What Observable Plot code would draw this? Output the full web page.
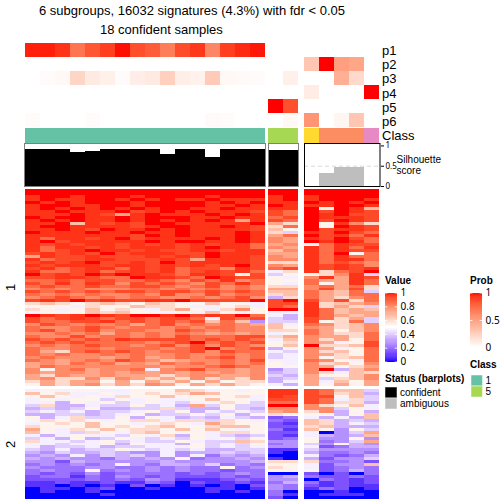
<!DOCTYPE html>
<html><head><meta charset="utf-8">
<style>
html,body{margin:0;padding:0;background:#fff}
#page{position:relative;width:504px;height:504px;overflow:hidden;font-family:"Liberation Sans",sans-serif;color:#000}
#page>svg,#page>div{position:absolute}
#page>div{white-space:nowrap;line-height:1}
</style>
<script src="https://cdn.jsdelivr.net/npm/d3@7"></script>
<script src="https://cdn.jsdelivr.net/npm/@observablehq/plot@0.6"></script>
</head><body><div id="page"></div>
<script>
// ---------- data ----------
const probNames = ["p1","p2","p3","p4","p5","p6"];
const probLeft = [
 [.97,.97,.93,.7,.82,.9,.99,.85,.8,.66,.86,.92,.62,.9,.95,.98],
 [0,0,0,0,0,0,0,0,0,0,0,0,0,0,0,0],
 [0,.02,.04,.22,.11,.08,.02,.09,.11,.25,.09,.07,.28,.04,.03,.02],
 [0,0,0,0,0,0,0,0,0,0,0,0,0,0,0,0],
 [0,0,0,0,0,0,0,0,0,0,0,0,0,0,0,0],
 [.02,0,0,0,.02,0,0,0,0,0,0,0,.03,.02,0,0]];
const probMid = [[0,0],[0,0],[0,.08],[0,0],[1,.85],[0,.04]];
const probRight = [
 [0,0,0,0,0],[.3,1,.5,.47,0],[0,0,.42,.2,0],[.1,0,0,0,1],[0,0,0,0,0],[.55,0,.05,.3,0]];
const classLeft = Array(16).fill("1");
const classMid = ["5","5"];
const classRight = ["a","b","b","b","c"];
const classColors = {"1":"#66C2A5","5":"#A6D854",a:"#FFD92F",b:"#FC8D62",c:"#E78AC3"};
const silLeft = [.9,.9,.9,.83,.87,.9,.9,.9,.9,.8,.9,.9,.72,.9,.9,.9];
const silMid = [.88,.88];
const silRight = [0,.32,.48,.48,0];
const valueTicks = [0,.2,.4,.6,.8,1];
const probTicks = [0,.5,1];
// each row: 16 left samples, 2 middle samples, 5 right samples
// digit 0..e = value d/15, g = 0.965, f = 1
const rowsGroup1 = [
"ffffffffffffffff ff fffff",
"ffffffffffffffff ff fffff",
"gffgfffgffffgfff gf gffff",
"gfggffgfgfggfggg gf gfffg",
"fgfgfffgffffgfgf gg fgfgf",
"gffggffgffffggfg fg ggffg",
"gfgfgfgfgffggfgg gg f8fga",
"ggfgggfegfgfggge ed fefge",
"gggfgebgfgggfgfg ed fgfee",
"fgffggfgfffggfgg de fggge",
"gfgfggfgfgfgfgbg ed fefge",
"ggfagegeffgggggf b9 f8gc9",
"gffggggegffggfge 9d f8fge",
"ggfgefggfgfgggge a8 fegge",
"fgggfggfggfgggfg 96 gefed",
"gggggggefgfgggfg bd fegdg",
"gdggegfeggggfgfg cb gefed",
"gfegggggfgffggfg cb fgfgd",
"gegeggegegegeggd bc 8dgee",
"gdggegegggegfggd cb gdgdg",
"gdegfggegeeggegg ac gdgee",
"egegefegggeefggg bb gdf8d",
"bgeegeeegegefgge cb gdgdd",
"gdeeggeeegebggge cc gdggd",
"egegfeegefegggge 99 gdedc",
"gegggeggegegegfe cb gegec",
"egdeggdgegdeecge de gegeg",
"gddegdegegdegegd 79 g9def",
"fegefgfggedgge8e 68 89cg6",
"eeggeddfggedfgee 87 cgbge",
"ddedeeddedcedgcd 88 dbbgd",
"edgdgecededcedgd 87 d8bgd",
"deddeddeedcdecdc 99 cdbd9",
"cdcdcccddcdcdcdc bb cebe9",
"edededeedeededed aa dbad6",
"dcdcdccdceccecdd 9a dbadd",
"cdedcdcddccdcdec 59 db9cd",
"egefegeeggfeeeef ef ebe9d",
"9a989a98a988a887 ee g9abc",
"8887988a99877897 ed g9b96",
"9878a89879b879c8 ff gdaba",
"7888a9a88787a878 77 gdabb",
"fgegfgeffgfegefd 75 gdbab",
"edegedeedeed7ede 65 ed9b6",
"eddeegdededeada4 66 e89d6",
"cedcdcdbdecdcdcb a7 dc9ac",
"dccdedcddcdcddcc a8 cb9ac",
"decdecddccedcdcc 99 db8ac",
"ccdcdbdcdcdcbcbc 78 db99d",
"dccecddcdcedddee 9b cbb9d",
"edededgeeeededed 7a c9b8d",
"dededdddcdefdede 89 cb78e",
"cdcdeddcdececedc 8a f99ae",
"dccddcdddcdefcde 58 cb78d",
"db9dededcddecedd 76 c9a8d",
"dcdccdcdccdccdcd 67 cb98d",
"cdcccbcdbcdcdecd 67 c89ad",
"dcbcdcedcabccdce 77 dc87d",
"bcbdcdbcbdcdcdcd 87 c9a8c",
"bdcccccccbccdedc 88 cb89b",
"c8cdbccd7cdeccbc 46 cf5ac",
"cbccbcbcbcbcbcbc 56 c97a9",
"b9cbbcbbb9bccbbc 65 b88ac",
"bc99c9cb9b9c9b9c 56 b69ac",
"9b9bb8b8b9b8b899 57 b7a8b",
"8b9bc9b9cb8b9b98 75 b8b8b"
];
const rowsGroup2 = [
"7878877888a97878 gg edaa6",
"a8977878989ba888 gg ed9a5",
"8a8787988a888897 ge ee8a6",
"787886878778a887 ee ed796",
"7758786787678986 dd ed995",
"69557668675b6866 ff c98a7",
"5656855669655865 cc cc687",
"6767566786857676 bc 9c585",
"5566567856686858 98 8858a",
"8579668587565765 23 7575a",
"8989878997996987 32 a9565",
"7898a8878987b988 21 a9576",
"9888a8989a889aa8 22 9a555",
"b8798a8998a8a878 31 a8486",
"a8769879a8887998 22 7046b",
"7578776879587656 21 7545a",
"6758568767687868 23 84484",
"97767867668766a9 44 8346b",
"7767785877586768 34 64854",
"7566756677786767 44 72355",
"6575668767675566 11 64444",
"5465565447455656 10 53343",
"4547465647473545 00 73235",
"5454435454834454 10 52446",
"4425444445444445 99 93342",
"3434347435546343 88 7244a",
"4333443343433834 98 72343",
"3433834343433233 88 82353",
"3232423333232343 00 20203",
"2331324323222323 45 32232",
"2222323243111232 44 03212",
"1121121132021121 35 31212",
"1101010201010102 43 21211",
"0110120010001101 43 13201",
"0100100000001010 30 00100",
"0000010000000000 31 01110",
"0000000000000000 20 00000"
];
// ---------- layout ----------
const page = document.getElementById("page");
const colLeft = {x:24,w:241}, colMid = {x:268,w:30}, colRight = {x:304,w:75.5};
const silDomain = [0,1.06];
const valueColor = {type:"linear",domain:[0,.5,1],range:["#0000ff","#ffffff","#ff0000"],interpolate:"lab"};
const probColor = {type:"linear",domain:[0,1],range:["#ffffff","#ff0000"],interpolate:"lab"};
function place(svg,x,y){svg.style.left=x+"px";svg.style.top=y+"px";svg.style.overflow="visible";svg.style.background="transparent";page.appendChild(svg);return svg;}
function label(text,x,y,size=10,opt={}){
  const d=document.createElement("div");d.textContent=text;
  d.style.left=x+"px";d.style.top=(y-size/2)+"px";d.style.fontSize=size+"px";
  if(opt.bold)d.style.fontWeight="bold";
  if(opt.rotate){d.style.transform=`translate(-50%,0) rotate(-90deg)`;}
  page.appendChild(d);return d;
}
function matrix(rows,col,top,h,color){
  const data=rows.flatMap((r,i)=>r.map((v,j)=>({i,j,v})));
  const svg=Plot.plot({width:col.w,height:h,margin:0,
    x:{type:"band",domain:d3.range(rows[0].length),padding:0,axis:null},
    y:{type:"band",domain:d3.range(rows.length),padding:0,axis:null},
    color,
    marks:[Plot.cell(data,{x:"j",y:"i",fill:"v",shapeRendering:"crispEdges"})]});
  return place(svg,col.x,top);
}
// ---------- probability annotation ----------
const probTop=42, probH=85;
matrix(probLeft,colLeft,probTop,probH,probColor);
matrix(probMid,colMid,probTop,probH,probColor);
matrix(probRight,colRight,probTop,probH,probColor);
// ---------- class strip ----------
function classStrip(vals,col){
  const svg=Plot.plot({width:col.w,height:14.5,margin:0,
    x:{type:"band",domain:d3.range(vals.length),padding:0,axis:null},
    y:{axis:null},
    marks:[Plot.cell(vals,{x:(d,i)=>i,fill:d=>classColors[d],shapeRendering:"crispEdges"})]});
  place(svg,col.x,128);
}
classStrip(classLeft,colLeft);classStrip(classMid,colMid);classStrip(classRight,colRight);
// ---------- silhouette bars ----------
function silhouette(vals,col,fill,frame,extra=[]){
  const svg=Plot.plot({width:col.w,height:43,margin:0,
    x:{type:"band",domain:d3.range(vals.length),padding:0,axis:null},
    y:{domain:silDomain,range:[43,0],axis:null},
    marks:[
      Plot.barY(vals,{x:(d,i)=>i,y:d=>d,fill,shapeRendering:"crispEdges"}),
      ...extra,
      Plot.frame({stroke:frame,strokeWidth:1})]});
  place(svg,col.x,143);
}
silhouette(silLeft,colLeft,"#000","#7f7f7f");
silhouette(silMid,colMid,"#000","#7f7f7f");
silhouette(silRight,colRight,"#bebebe","#000",[
  Plot.ruleY([.5],{stroke:"#d9d9d9",strokeDasharray:"4,3"})]);
const silAxis=Plot.plot({width:20,height:43,marginLeft:0,marginTop:0,marginBottom:0,marginRight:20,
  x:{axis:null},
  y:{domain:silDomain,range:[43,0],axis:null},
  marks:[Plot.axisY([0,.5,1],{anchor:"right",tickSize:3,tickPadding:2,fontSize:8,tickFormat:d=>d})]});
place(silAxis,380,143);
// ---------- heatmap ----------
const decode=rows=>rows.map(r=>r.replace(/ /g,"").split("").map(c=>c==="g"?.965:parseInt(c,16)/15));
const m1=decode(rowsGroup1), m2=decode(rowsGroup2);
function panels(m,top,h){
  matrix(m.map(r=>r.slice(0,16)),colLeft,top,h,valueColor);
  matrix(m.map(r=>r.slice(16,18)),colMid,top,h,valueColor);
  matrix(m.map(r=>r.slice(18,23)),colRight,top,h,valueColor);
}
panels(m1,189,197);
panels(m2,389,110);
// ---------- legends ----------
function ramp(x,y,h,ticks,color){
  const stops=d3.range(0,1.0001,1/64);
  const svg=Plot.plot({width:12,height:h,margin:0,
    x:{axis:null,domain:[0,1]},
    y:{domain:[0,1],range:[h-2.5,2.5],axis:null,clamp:true},
    color,
    marks:[
      Plot.rect(stops,{x1:0,x2:1,y1:d=>d-1/128,y2:d=>d+1/128,fill:d=>d,shapeRendering:"crispEdges"}),
      Plot.ruleY(ticks,{x1:0,x2:.2,stroke:"#fff",strokeOpacity:.8}),
      Plot.ruleY(ticks,{x1:.8,x2:1,stroke:"#fff",strokeOpacity:.8}),
      Plot.axisY(ticks,{anchor:"right",tickSize:0,tickPadding:3,fontSize:10,tickFormat:d=>d})
    ]});
  place(svg,x,y);
}
ramp(385,290,74,valueTicks,valueColor);
ramp(470,290,60,probTicks,probColor);
function swatches(items,x,y,w,h,size){
  const svg=Plot.plot({width:w,height:items.length*h,margin:0,
    x:{axis:null,domain:[0,1]},
    y:{type:"band",domain:items.map(d=>d.name),padding:0,axis:null},
    marks:[Plot.cell(items,{y:"name",fill:"color",stroke:"#fff",strokeOpacity:.5})]});
  place(svg,x,y);
  items.forEach((d,i)=>label(d.name,x+w+3,y+h*i+h/2,size));
}
swatches([{name:"1",color:classColors["1"]},{name:"5",color:classColors["5"]}],471,375,11.5,11,10);
swatches([{name:"confident",color:"#000000"},{name:"ambiguous",color:"#bebebe"}],385,387,12,11,10);
// ---------- text ----------
label("6 subgroups, 16032 signatures (4.3%) with fdr < 0.05",39,10.5,13);
label("18 confident samples",100,29.5,13);
probNames.forEach((p,i)=>label(p,382,[50,64,78,93,107,121][i],13));
label("Class",382,135,13);
label("Silhouette",396.5,160,10);
label("score",396.5,171,10);
label("Value",385,281,10,{bold:true});
label("Prob",470,281,10,{bold:true});
label("Class",470,365,10,{bold:true});
label("Status (barplots)",385,379,10,{bold:true});
label("1",10,287.5,13,{rotate:true});
label("2",10,444,13,{rotate:true});
</script></body></html>
